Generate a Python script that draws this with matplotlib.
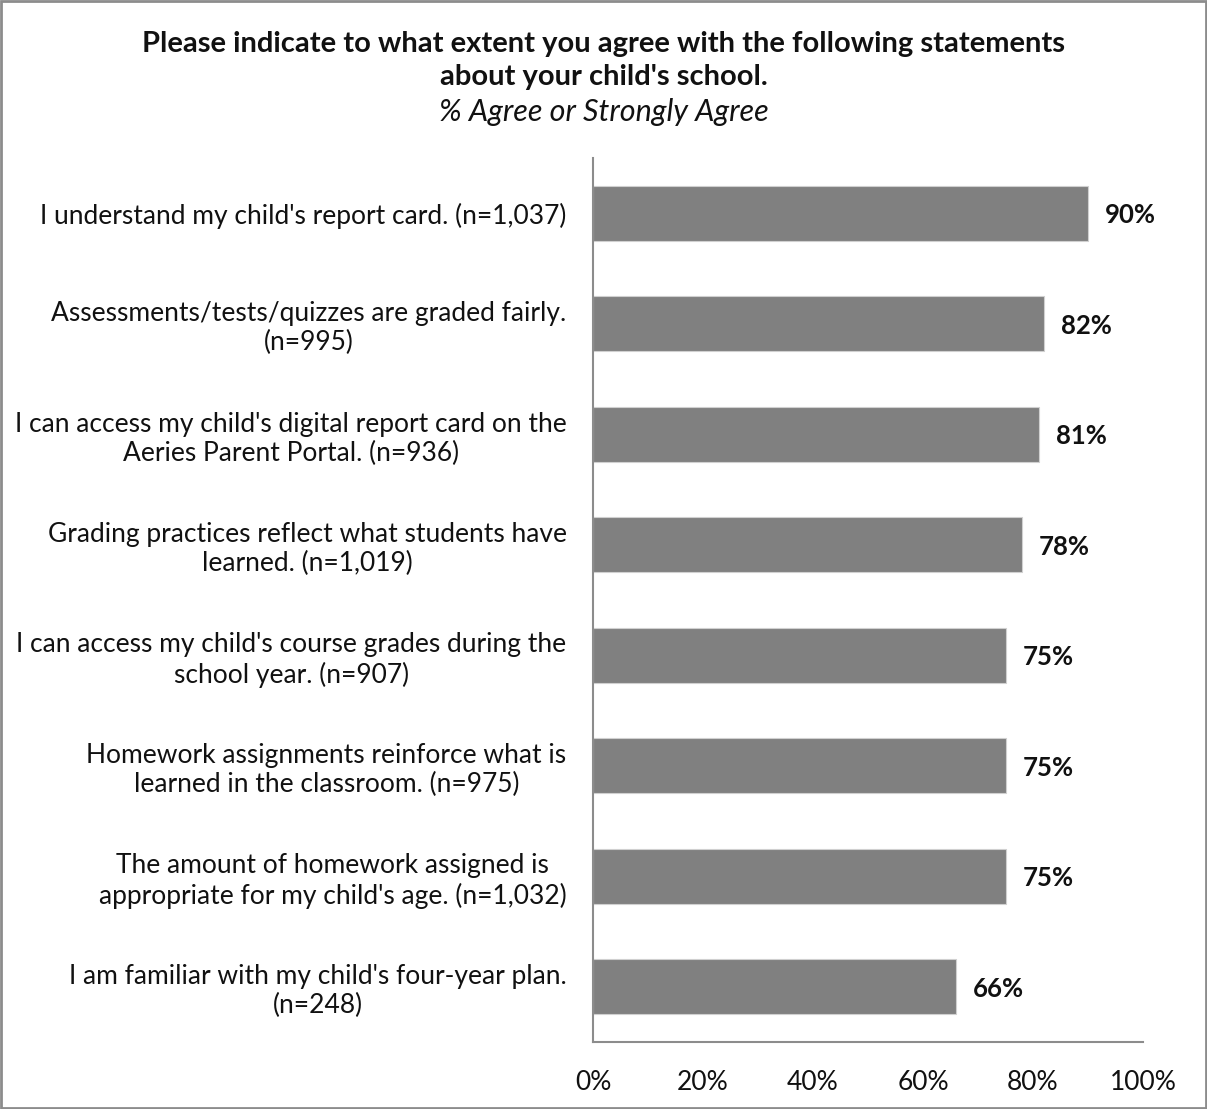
import matplotlib.pyplot as plt
from matplotlib.patches import Rectangle

plt.rcParams['font.family'] = ['Lato', 'DejaVu Sans']

# Survey statements and % agree / strongly agree
statements = [
    "I understand my child's report card. (n=1,037)",
    "Assessments/tests/quizzes are graded fairly.\n(n=995)",
    "I can access my child's digital report card on the\nAeries Parent Portal. (n=936)",
    "Grading practices reflect what students have\nlearned. (n=1,019)",
    "I can access my child's course grades during the\nschool year. (n=907)",
    "Homework assignments reinforce what is\nlearned in the classroom. (n=975)",
    "The amount of homework assigned is\nappropriate for my child's age. (n=1,032)",
    "I am familiar with my child's four-year plan.\n(n=248)",
]
pct_agree = [90, 82, 81, 78, 75, 75, 75, 66]
x_ticks = [0, 20, 40, 60, 80, 100]

fig = plt.figure(figsize=(12.07, 11.09), dpi=100)
ax = fig.add_axes([0.4913, 0.0604, 0.4557, 0.7971])

ypos = list(range(len(statements)))
ax.barh(ypos, pct_agree, height=0.5, color='#808080', edgecolor='#d0d0d0', linewidth=0.8)
for y, v in zip(ypos, pct_agree):
    ax.text(v + 3.1, y + 0.02, f"{v}%", va='center', ha='left', fontsize=18.5,
            fontweight='bold', color='#111111')

ax.set_ylim(len(statements) - 0.5, -0.5)
ax.set_xlim(0, 100)
ax.set_yticks(ypos)
ax.set_yticklabels(statements, fontsize=19, ha='right', multialignment='center',
                   color='#111111', linespacing=1.2)
ax.set_xticks(x_ticks)
ax.set_xticklabels([f"{t}%" for t in x_ticks], fontsize=19, color='#111111')
ax.tick_params(axis='both', length=0)
ax.tick_params(axis='y', pad=19)
ax.tick_params(axis='x', pad=20)

for side in ['top', 'right']:
    ax.spines[side].set_visible(False)
for side in ['left', 'bottom']:
    ax.spines[side].set_color('#8c8c8c')
    ax.spines[side].set_linewidth(1.5)

fig.text(0.5, 0.9454, "Please indicate to what extent you agree with the following statements\nabout your child's school.",
         ha='center', va='center', fontsize=21, fontweight='bold', linespacing=1.3, color='#111111')
fig.text(0.5, 0.899, "% Agree or Strongly Agree", ha='center', va='center', fontsize=22,
         style='italic', color='#111111')

# thin gray frame around the whole chart
fig.patches.append(Rectangle((0.001, 0.001), 0.998, 0.998, transform=fig.transFigure,
                             fill=False, edgecolor='#8c8c8c', linewidth=2))

fig.savefig('out.png', dpi=100)
